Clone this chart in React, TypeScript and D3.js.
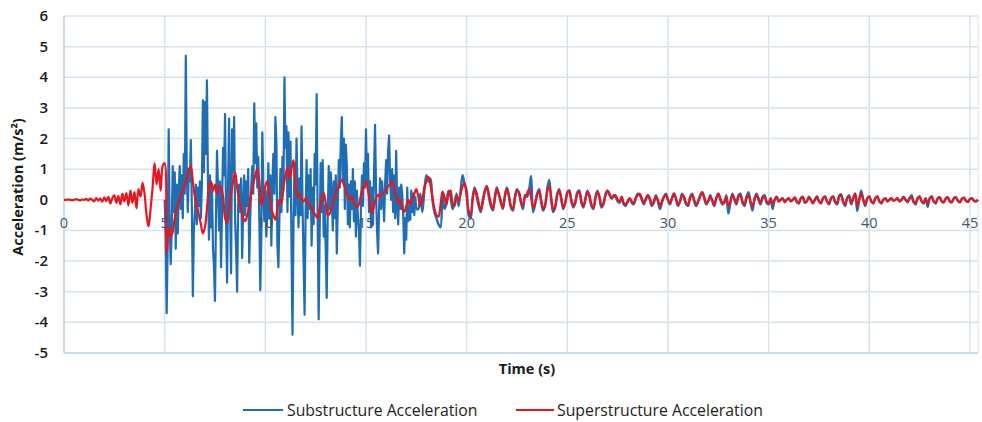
import React from "react";
import * as d3 from "d3";

// Superstructure acceleration, sampled every 0.1 s from t = 0
const superStep = 0.1;
const superAccel: number[] = [
  0, 0, 0.01, 0, -0.01, 0, 0.02, 0, -0.02, 0.01,
  0, 0.03, -0.02, 0.04, 0, -0.05, 0.06, -0.03, 0.05, -0.06,
  0.08, -0.04, 0.1, -0.12, 0.05, 0.15, -0.1, 0.12, -0.15, 0.2,
  -0.05, 0.22, -0.18, 0.3, -0.1, 0.25, -0.28, 0.35, 0.1, 0.55,
  0.2, -0.5, -0.87, -0.3, 0.4, 1.2, 0.5, 1.0, 0.3, 1.1,
  1.2, -1.75, -0.9, -1.2, -1.05, -0.6, -0.3, -0.1, 0.15, 0.3,
  0.5, 0.7, 1.0, 1.08, 0.6, 0.1, -0.2, -0.5, -0.8, -1.1,
  -0.9, -0.3, 0.4, 0.6, 0.3, 0.5, 0.2, 0.45, 0.4, 0.1,
  -0.6, -0.75, -0.3, 0.2, 0.6, 0.9, 0.4, -0.05, -0.3, -0.6,
  -0.7, -0.5, -0.2, 0.2, 0.5, 0.8, 1.0, 0.6, -0.17, 0.1,
  0.45, 0.6, 0.2, -0.3, -0.5, -0.65, -0.3, 0.0, -0.1, 0.4,
  0.8, 1.05, 0.7, 1.0, 1.3, 0.5, 0.1, 0.2, 0.0, -0.05,
  0.05, -0.1, -0.15, -0.26, -0.4, -0.5, -0.6, -0.3, 0.1, 0.22,
  -0.1, -0.5, -0.45, -0.2, 0.0, 0.25, 0.4, 0.55, 0.65, 0.5,
  0.3, 0.1, 0.0, 0.1, -0.1, -0.2, -0.22, 0.0, 0.3, 0.45,
  0.6, 0.3, -0.1, -0.43, -0.2, 0.05, 0.16, 0.1, 0.2, 0.25,
  0.3, 0.45, 0.5, 0.6, 0.4, 0.1, -0.1, 0.0, -0.3, -0.39,
  -0.2, 0.0, -0.15, 0.05, 0.2, 0.35, 0.1, -0.2, 0.0, 0.4,
  0.6, 0.75, 0.5, 0.1, -0.3, -0.5, -0.55, -0.2, 0.27, 0.1,
  -0.15, 0.2, 0.3, -0.1, -0.2, 0.1, 0.0, 0.2, 0.45, 0.55,
  0.1, -0.35, -0.5, 0.0, 0.33, 0.2, -0.1, -0.33, -0.1, 0.25,
  0.43, 0.2, -0.1, -0.3, 0.0, 0.35, 0.2, -0.05, -0.25, 0.1,
  0.35, 0.15, -0.2, -0.3, 0.05, 0.3, 0.25, -0.05, -0.2, 0.1,
  0.2, 0.35, 0.1, -0.25, -0.1, 0.15, 0.3, 0.0, -0.3, -0.15,
  0.25, 0.45, 0.1, -0.35, -0.2, 0.15, 0.3, 0.05, -0.25, -0.1,
  0.2, 0.3, 0.0, -0.2, -0.05, 0.2, 0.25, -0.05, -0.2, 0.0,
  0.25, 0.15, -0.15, -0.25, 0.05, 0.25, 0.1, -0.2, -0.1, 0.15,
  0.3, 0.2, 0.05, 0.1, 0.15, 0.0, -0.05, 0.1, -0.1, -0.15,
  -0.05, 0.05, -0.05, -0.1, 0.05, 0.15, 0.2, 0.05, -0.1, 0.0,
  0.15, 0.05, -0.15, -0.05, 0.1, 0.0, -0.2, -0.05, 0.1, 0.15,
  0.0, -0.1, 0.05, 0.2, 0.05, -0.15, -0.05, 0.15, 0.1, -0.1,
  -0.15, 0.05, 0.15, 0.0, -0.15, -0.05, 0.1, 0.25, 0.1, -0.1,
  -0.05, 0.1, 0.0, -0.15, 0.05, 0.2, 0.05, -0.1, -0.05, 0.1,
  -0.2, -0.05, 0.15, 0.05, -0.1, 0.1, 0.15, -0.05, -0.15, 0.05,
  0.15, -0.05, -0.2, 0.0, 0.15, 0.05, -0.1, 0.05, 0.1, -0.05,
  -0.1, 0.05, -0.15, 0.0, 0.1, -0.05, 0.0, 0.05, -0.05, 0.0,
  0.05, -0.05, 0.0, 0.08, -0.05, -0.1, 0.05, 0.08, -0.08, -0.05,
  0.08, 0.0, -0.1, 0.0, 0.1, -0.05, -0.1, 0.05, 0.1, -0.05,
  -0.12, 0.05, 0.1, -0.05, -0.1, 0.1, 0.15, -0.05, -0.15, 0.05,
  0.1, -0.1, 0.05, 0.2, -0.2, 0.0, 0.2, 0.0, -0.15, 0.05,
  0.1, -0.05, -0.1, 0.05, 0.1, -0.05, -0.1, 0.0, 0.05, -0.05,
  0.0, 0.05, -0.03, 0.0, 0.05, -0.05, 0.0, 0.08, 0.0, -0.05,
  0.05, 0.1, -0.05, -0.1, 0.05, 0.1, -0.05, -0.1, 0.05, -0.12,
  0.05, 0.1, -0.05, -0.1, 0.05, 0.08, -0.05, -0.08, 0.05, 0.08,
  -0.05, -0.08, 0.05, 0.08, -0.03, -0.08, 0.03, 0.07, -0.03, -0.07,
  0.03, 0.05, -0.03, -0.05, 0.0,
];

// Substructure acceleration, strong-motion part: t = 5.00 .. 17.50 every 0.05 s
const subDenseStart = 5.0;
const subDenseStep = 0.05;
const subDenseAccel: number[] = [
  0, -1.2, -3.7, -1.5, 2.3, -0.8, -2.1, -1.0, 1.1, -0.4, 0.9, -1.6, 0.5, -1.1, 0.3, 1.1, -0.3, 0.8, -0.6, 1.5,
  0.2, 4.7, 0.9, -0.4, 1.0, 0.6, 1.95, -0.2, -3.15, -1.0, -0.4, 0.5, -0.8, 0.4, -0.2, 0.6, -0.6, 0.5, 3.25, 0.9,
  3.2, 1.5, 3.9, 0.6, -1.3, 0.8, -0.9, 0.5, -1.6, -2.2, -3.3, -0.5, 1.6, 0.4, -1.0, 0.6, -2.2, -0.3, 1.7, 0.8,
  2.8, -0.6, -2.7, 0.5, 2.65, -0.3, -2.4, 2.3, 0.9, 2.7, -0.7, -1.6, -3.0, -0.2, 0.5, -0.4, 0.7, -1.9, -0.3, 0.8,
  -0.5, 0.6, -0.2, 1.0, -2.05, -0.6, 0.4, 1.1, 0.2, 3.15, 1.2, 2.5, 0.4, 1.4, -0.5, -2.95, -1.3, 2.2, 0.5, -0.7,
  0.3, -1.2, -0.3, 1.2, -0.6, 0.8, -1.5, 0.5, 1.5, 0.2, 2.7, 1.9, -1.5, -2.2, -0.6, 1.0, -0.4, 1.4, 0.3, 4.0,
  1.7, 2.4, -0.4, 2.2, 0.1, 1.9, -1.5, -4.4, -0.8, 1.2, -0.5, 2.0, 0.3, -0.9, 0.7, -0.5, 2.4, -0.2, -2.0, -3.75,
  -0.4, 1.3, -0.6, 0.8, -0.3, 1.0, -1.5, 0.4, -0.8, 1.5, 0.5, 3.45, -0.6, -3.9, -1.0, 1.2, -0.4, 1.3, -1.2, -0.2,
  -1.6, -3.2, -0.5, 1.1, -0.3, 0.9, 0.2, -1.0, 0.6, -0.6, 0.8, -1.75, -0.2, 1.3, 0.4, 1.9, 2.7, 0.6, 2.0, -0.3,
  1.8, 1.1, -0.8, 0.5, -0.9, 0.6, -0.3, 1.0, -0.7, 0.6, -1.2, 0.3, -0.6, -1.0, -2.15, -0.3, 0.8, -0.2, 1.2, 0.4,
  2.3, 0.5, 1.5, -0.4, 0.6, -0.9, 0.4, -0.8, 0.9, 2.45, 0.3, -1.0, -1.75, -0.4, 0.7, -0.3, 0.6, 0.1, -0.7, 0.5,
  1.3, 0.2, 1.6, 2.1, 0.6, 0.0, 1.0, -0.4, 0.8, -0.6, 1.6, -0.2, -0.8, 0.4, -0.3, 0.5, 0.2, -0.5, -1.75, -0.6,
  -1.3, 0.4, -0.7, -0.2, -0.65, 0.3, -0.4, 0.2, -0.5, 0.1, -0.3,
];

// Substructure acceleration, decay part: t = 17.6 .. 45.4 every 0.1 s
const subTailStart = 17.6;
const subTailStep = 0.1;
const subTailAccel: number[] = [
  -0.3, 0.2, -0.4, 0.3,
  0.8, 0.6, 0.7, 0.0, -0.4, -0.6, -0.8, -0.9, 0.2, -0.3,
  -0.1, 0.3, 0.1, -0.3, -0.1, 0.2, -0.2, 0.3, 0.8, 0.5,
  0.3, -0.5, -0.6, 0.1, 0.4, 0.1, -0.2, -0.4, 0.0, 0.3,
  0.45, 0.1, -0.2, -0.35, 0.1, 0.4, 0.15, -0.1, -0.3, 0.15,
  0.4, 0.1, -0.25, -0.35, 0.1, 0.35, 0.2, -0.1, -0.3, 0.15,
  0.1, 0.3, 0.78, -0.4, -0.15, 0.2, 0.35, -0.05, -0.35, -0.2,
  0.35, 0.65, 0.0, -0.4, -0.25, 0.2, 0.35, 0.0, -0.3, -0.1,
  0.25, 0.3, -0.05, -0.25, -0.1, 0.25, 0.3, -0.1, -0.25, 0.05,
  0.3, 0.1, -0.2, -0.3, 0.1, 0.3, 0.05, -0.25, -0.15, 0.2,
  0.3, 0.15, 0.05, 0.15, 0.1, -0.05, -0.1, 0.1, -0.15, -0.2,
  -0.05, 0.05, -0.1, -0.15, 0.05, 0.2, 0.15, 0.0, -0.15, 0.05,
  0.15, 0.0, -0.2, -0.1, 0.15, -0.05, -0.3, -0.1, 0.1, 0.2,
  0.0, -0.15, 0.05, 0.2, 0.0, -0.2, -0.05, 0.2, 0.05, -0.15,
  -0.2, 0.1, 0.2, -0.05, -0.2, -0.05, 0.15, 0.25, 0.05, -0.15,
  -0.05, 0.15, -0.05, -0.2, 0.05, 0.2, 0.0, -0.15, -0.1, 0.15,
  -0.45, -0.1, 0.2, 0.0, -0.15, 0.15, 0.2, -0.1, -0.2, 0.1,
  0.25, -0.1, -0.35, 0.05, 0.2, 0.0, -0.15, 0.1, 0.15, -0.1,
  -0.15, 0.05, -0.3, 0.0, 0.1, -0.05, 0.0, 0.05, -0.08, 0.0,
  0.05, -0.05, 0.0, 0.08, -0.08, -0.12, 0.05, 0.1, -0.1, -0.05,
  0.1, 0.0, -0.12, 0.0, 0.12, -0.05, -0.12, 0.05, 0.12, -0.05,
  -0.15, 0.05, 0.12, -0.08, -0.15, 0.12, 0.18, -0.08, -0.2, 0.05,
  0.15, -0.15, 0.05, 0.2, -0.36, 0.0, 0.3, 0.0, -0.2, 0.05,
  0.12, -0.05, -0.12, 0.05, 0.12, -0.05, -0.12, 0.0, 0.05, -0.05,
  0.0, 0.05, -0.03, 0.0, 0.05, -0.05, 0.0, 0.1, 0.0, -0.08,
  0.05, 0.15, -0.08, -0.15, 0.05, 0.12, -0.05, -0.12, 0.05, -0.23,
  0.05, 0.12, -0.05, -0.12, 0.05, 0.08, -0.05, -0.08, 0.05, 0.08,
  -0.05, -0.08, 0.05, 0.08, -0.03, -0.08, 0.03, 0.07, -0.03, -0.07,
  0.03, 0.05, -0.03, -0.05, 0.0,
];

const xTicks = [0, 5, 10, 15, 20, 25, 30, 35, 40, 45];
const yTicks = [-5, -4, -3, -2, -1, 0, 1, 2, 3, 4, 5, 6];
const seriesNames = ["Substructure Acceleration", "Superstructure Acceleration"];

const W = 982;
const H = 422;
const FONT = "'Open Sans', 'Noto Sans', sans-serif";
const BLUE = "#1F6DB3";
const RED = "#E8161C";
const GRID = "#D6E3F2";
const AXIS = "#BBD0EA";

type P = [number, number];

export default function App() {
  const x = d3.scaleLinear().domain([0, 45.4]).range([64, 978]);
  const y = d3.scaleLinear().domain([-5, 6]).range([353, 16]);

  const superPts: P[] = superAccel.map((v, i) => [i * superStep, v]);
  const subDensePts: P[] = subDenseAccel.map((v, i) => [subDenseStart + i * subDenseStep, v] as P);
  const subTailPts: P[] = [
    subDensePts[subDensePts.length - 1],
    ...subTailAccel.map((v, i) => [subTailStart + i * subTailStep, v] as P),
  ];

  const line = d3
    .line<P>()
    .x((d) => x(d[0]))
    .y((d) => y(d[1]));
  const smooth = d3
    .line<P>()
    .x((d) => x(d[0]))
    .y((d) => y(d[1]))
    .curve(d3.curveCatmullRom.alpha(0.5));

  const [x0, x1] = x.range();
  const [yb, yt] = y.range();

  return (
    <svg
      width={W}
      height={H}
      viewBox={`0 0 ${W} ${H}`}
      style={{ position: "absolute", left: 0, top: 0, background: "#fff" }}
      fontFamily={FONT}
    >
      {/* horizontal grid */}
      {yTicks.map((t) => (
        <line key={"hy" + t} x1={x0} x2={x1} y1={y(t)} y2={y(t)} stroke={t === -5 ? AXIS : GRID} strokeWidth={1.5} />
      ))}
      {/* vertical grid */}
      {xTicks.map((t) => (
        <line key={"vx" + t} x1={x(t)} x2={x(t)} y1={yt} y2={yb} stroke={t === 0 ? AXIS : GRID} strokeWidth={1.5} />
      ))}
      <line x1={x1} x2={x1} y1={yt} y2={yb} stroke={GRID} strokeWidth={1} />

      {/* series */}
      <path d={line(subDensePts) || ""} fill="none" stroke={BLUE} strokeWidth={2.2} strokeLinejoin="round" />
      <path d={smooth(subTailPts) || ""} fill="none" stroke={BLUE} strokeWidth={2.4} strokeLinejoin="round" />
      <path d={smooth(superPts) || ""} fill="none" stroke={RED} strokeWidth={2.2} strokeLinejoin="round" />

      {/* y tick labels */}
      {yTicks.map((t) => (
        <text key={"yl" + t} x={48} y={y(t) + 5} textAnchor="end" fontSize={15} fontWeight={600} fill="#1a1a1a">
          {t}
        </text>
      ))}
      {/* x tick labels near zero line */}
      {xTicks.map((t) => (
        <text key={"xl" + t} x={x(t)} y={y(0) + 28} textAnchor="middle" fontSize={14.5} fill="#44546A">
          {t}
        </text>
      ))}

      {/* axis titles */}
      <text x={527} y={374} textAnchor="middle" fontSize={14.5} fontWeight="bold" fill="#1a1a1a">
        Time (s)
      </text>
      <text
        transform={`translate(23, ${187}) rotate(-90)`}
        textAnchor="middle"
        fontSize={14.5}
        fontWeight="bold"
        fill="#1a1a1a"
      >
        Acceleration (m/s²)
      </text>

      {/* legend */}
      <line x1={243} x2={283} y1={410} y2={410} stroke={BLUE} strokeWidth={2.2} />
      <text x={287} y={415.5} fontSize={15.8} fill="#222">
        {seriesNames[0]}
      </text>
      <line x1={516} x2={554} y1={410} y2={410} stroke={RED} strokeWidth={2.2} />
      <text x={557} y={415.5} fontSize={15.8} fill="#222">
        {seriesNames[1]}
      </text>
    </svg>
  );
}
